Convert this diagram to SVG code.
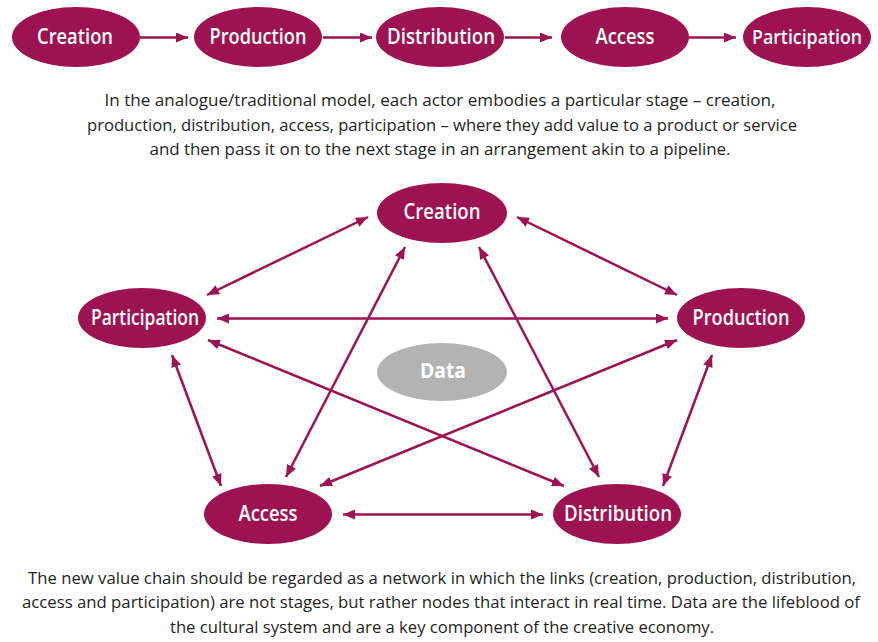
<svg xmlns="http://www.w3.org/2000/svg" width="878" height="642" viewBox="0 0 878 642">
<defs>
<style>
.node{fill:#9d1351}
.data{fill:#b3b3b3}
.lbl{fill:#ffffff;font-family:"Open Sans","Noto Sans",sans-serif;font-weight:600;font-size:21px;text-anchor:middle}
.sm{font-size:19.5px}
.dlbl{fill:#ffffff;font-family:"Open Sans","Noto Sans",sans-serif;font-weight:700;font-size:21px;text-anchor:middle}
.cap{fill:#231f20;font-family:"Open Sans","Noto Sans",sans-serif;font-size:16px;text-anchor:middle}
.ln{stroke:#9d1351;stroke-width:2.5;fill:none}
.one{marker-end:url(#ah)}
.two{marker-start:url(#ah);marker-end:url(#ah)}
</style>
<marker id="ah" viewBox="0 0 12 10" refX="12" refY="5" markerWidth="12" markerHeight="10" markerUnits="userSpaceOnUse" orient="auto-start-reverse">
<path d="M0,0 L12,5 L0,10 z" fill="#9d1351"/>
</marker>
</defs>
<rect width="878" height="642" fill="#ffffff"/>

<g id="connectors">
<line class="ln one" x1="140" y1="37.5" x2="188" y2="37.5"/>
<line class="ln one" x1="323" y1="37.5" x2="372" y2="37.5"/>
<line class="ln one" x1="505" y1="37.5" x2="552" y2="37.5"/>
<line class="ln one" x1="689" y1="37.5" x2="736" y2="37.5"/>

<line class="ln two" x1="207" y1="295" x2="368" y2="217"/>
<line class="ln two" x1="517" y1="217" x2="677" y2="295"/>
<line class="ln two" x1="217" y1="318.5" x2="668" y2="318.5"/>
<line class="ln two" x1="208" y1="340" x2="564" y2="486"/>
<line class="ln two" x1="677" y1="340" x2="320" y2="486"/>
<line class="ln two" x1="172" y1="355" x2="221" y2="486"/>
<line class="ln two" x1="712" y1="355" x2="663" y2="486"/>
<line class="ln two" x1="405" y1="247" x2="286" y2="477"/>
<line class="ln two" x1="479" y1="247" x2="599" y2="477"/>
<line class="ln two" x1="343" y1="514.5" x2="543" y2="514.5"/>
</g>

<g id="top-creation"><ellipse class="node" cx="76" cy="37" rx="64" ry="30"/><text class="lbl" x="75" y="44" textLength="76" lengthAdjust="spacingAndGlyphs">Creation</text></g>
<g id="top-production"><ellipse class="node" cx="258" cy="37" rx="64" ry="30"/><text class="lbl" x="258" y="44" textLength="97" lengthAdjust="spacingAndGlyphs">Production</text></g>
<g id="top-distribution"><ellipse class="node" cx="440" cy="37" rx="64" ry="30"/><text class="lbl" x="441" y="44" textLength="108" lengthAdjust="spacingAndGlyphs">Distribution</text></g>
<g id="top-access"><ellipse class="node" cx="625" cy="37" rx="64" ry="30"/><text class="lbl" x="625" y="44" textLength="59" lengthAdjust="spacingAndGlyphs">Access</text></g>
<g id="top-participation"><ellipse class="node" cx="807" cy="37" rx="64" ry="30"/><text class="lbl sm" x="807" y="44" textLength="110" lengthAdjust="spacingAndGlyphs">Participation</text></g>

<g id="caption-top">
<text class="cap" x="440" y="106" textLength="671" lengthAdjust="spacingAndGlyphs">In the analogue/traditional model, each actor embodies a particular stage – creation,</text>
<text class="cap" x="442" y="131" textLength="710" lengthAdjust="spacingAndGlyphs">production, distribution, access, participation – where they add value to a product or service</text>
<text class="cap" x="440" y="155" textLength="581" lengthAdjust="spacingAndGlyphs">and then pass it on to the next stage in an arrangement akin to a pipeline.</text>
</g>

<g id="creation"><ellipse class="node" cx="442" cy="213" rx="65" ry="30"/><text class="lbl" x="442" y="219" textLength="77" lengthAdjust="spacingAndGlyphs">Creation</text></g>
<g id="participation"><ellipse class="node" cx="142" cy="318" rx="64" ry="30"/><text class="lbl" x="145" y="325" textLength="108" lengthAdjust="spacingAndGlyphs">Participation</text></g>
<g id="production"><ellipse class="node" cx="741" cy="318" rx="64" ry="30"/><text class="lbl" x="741" y="325" textLength="97" lengthAdjust="spacingAndGlyphs">Production</text></g>
<g id="data"><ellipse class="data" cx="442" cy="372" rx="65" ry="29"/><text class="dlbl" x="443" y="378" textLength="46" lengthAdjust="spacingAndGlyphs">Data</text></g>
<g id="access"><ellipse class="node" cx="268" cy="514" rx="64" ry="30"/><text class="lbl" x="268" y="521" textLength="59" lengthAdjust="spacingAndGlyphs">Access</text></g>
<g id="distribution"><ellipse class="node" cx="617" cy="514" rx="64" ry="30"/><text class="lbl" x="618" y="521" textLength="108" lengthAdjust="spacingAndGlyphs">Distribution</text></g>

<g id="caption-bottom">
<text class="cap" x="442" y="584" textLength="828" lengthAdjust="spacingAndGlyphs">The new value chain should be regarded as a network in which the links (creation, production, distribution,</text>
<text class="cap" x="441" y="608" textLength="838" lengthAdjust="spacingAndGlyphs">access and participation) are not stages, but rather nodes that interact in real time. Data are the lifeblood of</text>
<text class="cap" x="442" y="633" textLength="544" lengthAdjust="spacingAndGlyphs">the cultural system and are a key component of the creative economy.</text>
</g>
</svg>
